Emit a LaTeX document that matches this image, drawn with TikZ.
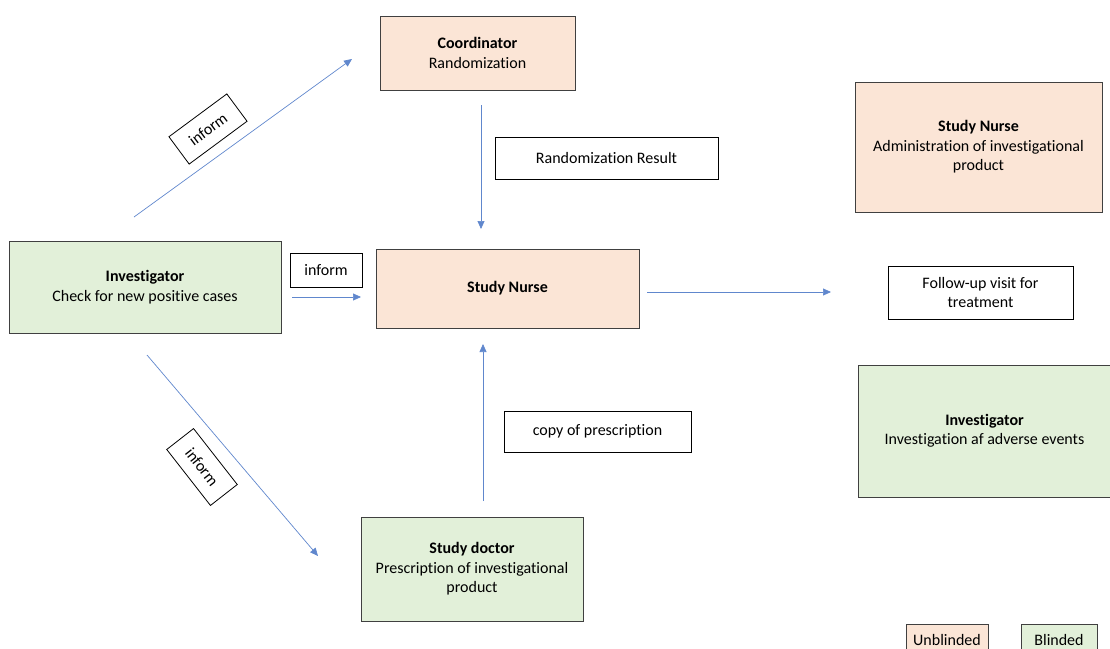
\documentclass[tikz,border=0pt]{standalone}
\usepackage{fontspec}
\setmainfont{Carlito}[Ligatures=NoCommon]
\usetikzlibrary{arrows.meta,positioning}

\definecolor{peach}{HTML}{FBE5D6}
\definecolor{leaf}{HTML}{E2F0D9}
\definecolor{flowblue}{HTML}{4472C4}

\tikzset{
  role/.style={draw=black!75, line width=0.8pt, align=center, inner sep=2pt,
    font=\fontsize{16}{19.5}\selectfont},
  unblind/.style={role, fill=peach},
  blind/.style={role, fill=leaf},
  note/.style={draw=black, line width=0.8pt, fill=white, align=center, inner sep=2pt,
    font=\fontsize{16}{19.5}\selectfont},
  flow/.style={draw=flowblue!85, line width=0.7pt, -{Triangle[length=8pt,width=7pt]}}
}

\begin{document}
\begin{tikzpicture}[x=1pt,y=-1pt]
            \useasboundingbox (0,0) rectangle (1110,648);
            % roles
            \node[unblind, minimum width=195, minimum height=74] (coord) at (477.5,53) {\textbf{Coordinator}\\Randomization};
            \node[unblind, minimum width=263, minimum height=79] (nurse) at (507.5,288.5) {\textbf{Study Nurse}};
            \node[unblind, minimum width=247, minimum height=130] (admin) at (978.5,147) {\textbf{Study Nurse}\\Administration of investigational\\product};
            \node[blind, minimum width=272, minimum height=92] (check) at (145,287) {\textbf{Investigator}\\Check for new positive cases};
            \node[blind, minimum width=222, minimum height=104] (doctor) at (472,569) {\textbf{Study doctor}\\Prescription of investigational\\product};
            \node[blind, minimum width=253, minimum height=132] (adverse) at (984.5,431) {\textbf{Investigator}\\Investigation af adverse events};
            % labels
            \node[note, minimum width=223, minimum height=42] (result) at (606.5,158) {Randomization Result};
            \node[note, minimum width=187, minimum height=41] (copy) at (597.5,431.5) {copy of prescription};
            \node[note, minimum width=185, minimum height=53] (visit) at (980.5,292.5) {Follow-up visit for\\treatment};
            \node[note, minimum width=72, minimum height=34] (inform) at (326,270) {inform};
            \node[note, minimum width=72, minimum height=34, rotate=36.5] (informup) at (208,129) {inform};
            \node[note, minimum width=71, minimum height=34, rotate=-52] (informdown) at (202,467) {inform};
            % legend
            \node[unblind, minimum width=82, minimum height=32] (keyu) at (947,640) {Unblinded};
            \node[blind, minimum width=76, minimum height=32] (keyb) at (1059,640) {Blinded};
            % arrow ends
            \coordinate (upA) at (134,217);
            \coordinate (upB) at (352,59);
            \coordinate (downA) at (147,355);
            \coordinate (downB) at (318,556);
            \coordinate (midA) at (292,297);
            \coordinate (midB) at (361,297);
            \coordinate (resA) at (481,105);
            \coordinate (resB) at (481,229);
            \coordinate (copyA) at (483,501);
            \coordinate (copyB) at (483,344);
            \coordinate (visitA) at (647,292);
            \coordinate (visitB) at (831,292);
            \draw[flow] (upA) -- (upB);
            \draw[flow] (downA) -- (downB);
            \draw[flow] (midA) -- (midB);
            \draw[flow] (resA) -- (resB);
            \draw[flow] (copyA) -- (copyB);
            \draw[flow] (visitA) -- (visitB);
        \end{tikzpicture}
\end{document}
